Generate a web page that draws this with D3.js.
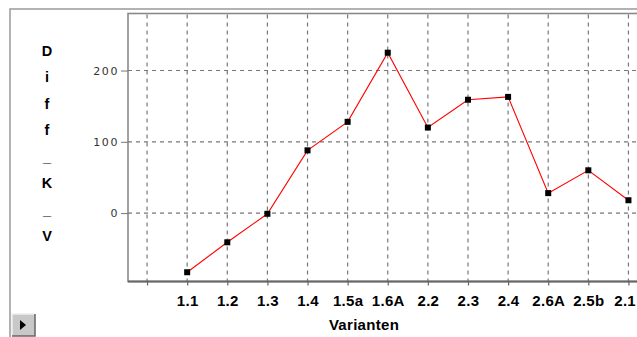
<!DOCTYPE html>
<html><head><meta charset="utf-8">
<script src="https://cdn.jsdelivr.net/npm/d3@7"></script>
<style>html,body{margin:0;padding:0;background:#fff;overflow:hidden}</style>
</head><body><svg id="c" width="637" height="337"></svg>
<script>
const categories = ["1.1","1.2","1.3","1.4","1.5a","1.6A","2.2","2.3","2.4","2.6A","2.5b","2.1"];
const values = [-83, -41, -1, 88, 128, 225, 120, 159, 163, 28, 60, 18];
const yTicks = [0, 100, 200];
const yTitle = "Diff_K_V";
const xTitle = "Varianten";

const svg = d3.select("#c");
svg.append("rect").attr("width",637).attr("height",337).attr("fill","#fff");

const L = 128, T = 13.5, B = 281.5;
const slots = [""].concat(categories);
const x = d3.scalePoint().domain(slots).range([127, 648.5]).padding(0.5);
const y = d3.scaleLinear().domain([-96, 280]).range([B, T]);

// outer frame
svg.append("rect").attr("x",10).attr("y",9).attr("width",640).attr("height",340)
  .attr("fill","none").attr("stroke","#a0a0a0").attr("stroke-width",1.6);
// plot frame
svg.append("rect").attr("x",L).attr("y",T).attr("width",530).attr("height",B-T)
  .attr("fill","#fff").attr("stroke","#8a8a8a").attr("stroke-width",1.6);

// grid
const g = svg.append("g");
g.selectAll("line.v").data(slots).enter().append("line")
  .attr("x1",d=>x(d)).attr("x2",d=>x(d)).attr("y1",T+1).attr("y2",B)
  .attr("stroke","#777").attr("stroke-width",1.2).attr("stroke-dasharray","4,4");
g.selectAll("line.h").data(yTicks).enter().append("line")
  .attr("x1",L).attr("x2",637).attr("y1",d=>y(d)).attr("y2",d=>y(d))
  .attr("stroke","#777").attr("stroke-width",1.2).attr("stroke-dasharray","4,4");

// y axis
const ya = svg.append("g").attr("transform",`translate(${L},0)`)
  .call(d3.axisLeft(y).tickValues(yTicks).tickSize(7).tickPadding(2));
ya.select(".domain").remove();
ya.selectAll(".tick line").attr("stroke","#777");
ya.selectAll(".tick text").attr("fill","#333").style("font-family","DejaVu Sans, sans-serif")
  .style("font-size","11px").style("letter-spacing","1.6px");

// x axis
const xa = svg.append("g").attr("transform",`translate(0,${B})`)
  .call(d3.axisBottom(x).tickSize(4).tickPadding(10).tickSizeOuter(0));
xa.select(".domain").attr("stroke","#666").attr("stroke-width",2.2).attr("d","M"+L+",0H640");
xa.selectAll(".tick line").attr("stroke","#666").attr("stroke-width",1.2);
xa.selectAll(".tick text").attr("fill","#000").style("font-family","Liberation Sans, Arial, sans-serif")
  .style("font-size","15px").style("font-weight","bold").style("letter-spacing","0.3px");
// keep the last label inside the window
xa.selectAll(".tick text").each(function(){
  const bb = this.getBBox();
  const tx = +this.parentNode.getAttribute("transform").match(/translate\(([-\d.]+)/)[1];
  const right = tx + bb.x + bb.width;
  if (right > 636) d3.select(this).attr("dx", (636 - right) + "px");
});

// line + markers
const pts = categories.map((c,i)=>({c, v: values[i]}));
svg.append("path").datum(pts)
  .attr("d", d3.line().x(d=>x(d.c)).y(d=>y(d.v)))
  .attr("fill","none").attr("stroke","#ff0000").attr("stroke-width",1.1);
svg.selectAll("rect.m").data(pts).enter().append("rect")
  .attr("x",d=>x(d.c)-3).attr("y",d=>y(d.v)-3).attr("width",6).attr("height",6).attr("fill","#000");

// titles
svg.append("text").attr("x",364).attr("y",330).attr("text-anchor","middle")
  .style("font-family","Liberation Sans, Arial, sans-serif").style("font-size","15px")
  .style("font-weight","bold").style("letter-spacing","0.3px").text(xTitle);
svg.append("g").selectAll("text").data(yTitle.split("")).enter().append("text")
  .attr("x",47).attr("y",(d,i)=>55.5 + i*26.5).attr("text-anchor","middle")
  .style("font-family","Liberation Sans, Arial, sans-serif").style("font-size","14.5px")
  .style("font-weight","bold").text(d=>d);

// button
const bt = svg.append("g");
bt.append("rect").attr("x",12).attr("y",314).attr("width",23).attr("height",22).attr("fill","#c8c8c8");
bt.append("path").attr("d","M12,336V314H35").attr("fill","none").attr("stroke","#eee").attr("stroke-width",1.5);
bt.append("path").attr("d","M35,314V336H12").attr("fill","none").attr("stroke","#666").attr("stroke-width",1.5);
bt.append("path").attr("d","M20,320L26,325L20,330Z").attr("fill","#000");
</script></body></html>
